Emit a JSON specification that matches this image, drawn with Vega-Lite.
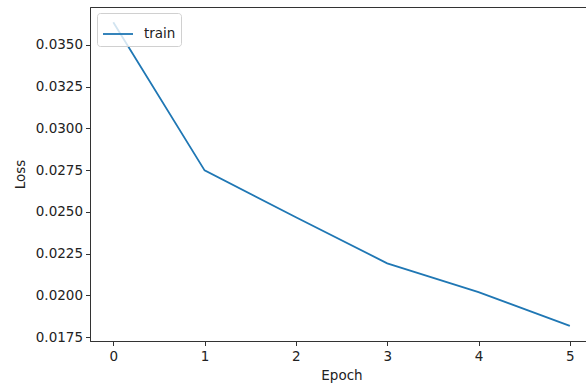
{
  "$schema": "https://vega.github.io/schema/vega-lite/v6.json",
  "autosize": "none",
  "width": 497,
  "height": 334,
  "padding": {"left": 90, "top": 7, "right": 0, "bottom": 43},
  "background": "white",
  "config": {
    "view": {"stroke": "#333", "strokeWidth": 1},
    "font": "DejaVu Sans",
    "axis": {
      "grid": false,
      "domainColor": "#333",
      "tickColor": "#333",
      "labelColor": "#222",
      "titleColor": "#222",
      "labelFontSize": 13.5,
      "titleFontSize": 13.5,
      "titleFontWeight": "normal",
      "labelFont": "DejaVu Sans",
      "titleFont": "DejaVu Sans",
      "tickSize": 4.5
    }
  },
  "data": {
    "values": [
      {"epoch": 0, "loss": 0.03635, "series": "train"},
      {"epoch": 1, "loss": 0.02748, "series": "train"},
      {"epoch": 2, "loss": 0.02468, "series": "train"},
      {"epoch": 3, "loss": 0.02192, "series": "train"},
      {"epoch": 4, "loss": 0.02020, "series": "train"},
      {"epoch": 5, "loss": 0.01818, "series": "train"}
    ]
  },
  "mark": {"type": "line", "strokeWidth": 1.8, "clip": true},
  "encoding": {
    "x": {
      "field": "epoch",
      "type": "quantitative",
      "scale": {"domain": [-0.255, 5.188], "nice": false, "zero": false},
      "axis": {
        "values": [0, 1, 2, 3, 4, 5],
        "format": "d",
        "title": "Epoch",
        "labelPadding": 4,
        "titlePadding": 5,
        "titleX": 251.5,
        "titleAnchor": "middle",
        "labelFlush": false
      }
    },
    "y": {
      "field": "loss",
      "type": "quantitative",
      "scale": {"domain": [0.01727, 0.03726], "nice": false, "zero": false},
      "axis": {
        "values": [0.0175, 0.02, 0.0225, 0.025, 0.0275, 0.03, 0.0325, 0.035],
        "format": ".4f",
        "title": "Loss",
        "labelPadding": 3,
        "titlePadding": 8,
        "labelFlush": false
      }
    },
    "color": {
      "field": "series",
      "type": "nominal",
      "scale": {"range": ["#1f77b4"]},
      "legend": {
        "title": null,
        "orient": "none",
        "legendX": 7,
        "legendY": 6,
        "symbolType": "stroke",
        "symbolSize": 900,
        "symbolStrokeWidth": 1.8,
        "labelFontSize": 13.5,
        "labelFont": "DejaVu Sans",
        "labelColor": "#222",
        "labelOffset": 10,
        "padding": 5,
        "strokeColor": "#d0d0d0",
        "fillColor": "rgba(255,255,255,0.8)",
        "cornerRadius": 3
      }
    }
  }
}
